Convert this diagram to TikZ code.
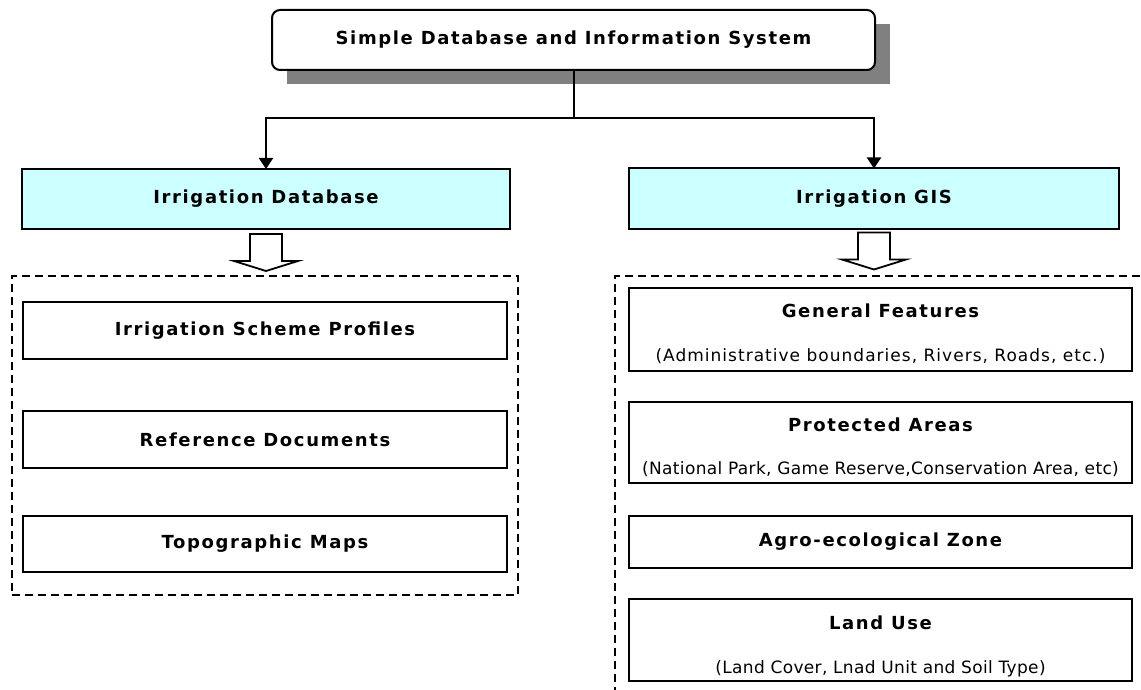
\documentclass[tikz,border=0pt]{standalone}
\usepackage{fontspec}
\setmainfont{DejaVu Sans}
\newfontfamily\lblfont{DejaVu Sans}[LetterSpace=9]
\newfontfamily\notefont{DejaVu Sans}[LetterSpace=2]
\newfontfamily\notewidefont{DejaVu Sans}[LetterSpace=6]
\usetikzlibrary{arrows.meta,backgrounds}
\definecolor{paleblue}{HTML}{CCFFFF}
\definecolor{shadowgray}{HTML}{808080}

\tikzset{
  every node/.style={inner sep=0pt, outer sep=0pt},
  labelfont/.style={font=\lblfont\bfseries\fontsize{18}{21}\selectfont},
  mainbox/.style={draw=black, line width=2pt, fill=white,
    rounded corners=8pt, minimum width=603pt, minimum height=60pt, labelfont},
  headbox/.style={draw=black, line width=2pt, fill=paleblue,
    minimum height=60pt, labelfont},
  itembox/.style={draw=black, line width=2pt, fill=white},
  grouping/.style={draw=black, line width=2.8pt, dash pattern=on 8pt off 5pt},
  title/.style={labelfont},
  note/.style={font=\notefont\fontsize{17}{20}\selectfont},
  widenote/.style={font=\notewidefont\fontsize{17}{20}\selectfont},
  link/.style={draw=black, line width=2pt},
  hollow/.pic={
    \draw[line width=1.8pt, fill=white, line join=miter]
      (-16,0) -- (-16,27) -- (-32,27) -- (0,37) -- (32,27)
      -- (16,27) -- (16,0) -- cycle;
  }
}

\begin{document}
\begin{tikzpicture}[x=1pt, y=-1pt]
\useasboundingbox (0,0) rectangle (1141,690);

% top level system box with its offset shadow
\node[mainbox] (top) at (573.5,40) {Simple Database and Information System};
\begin{scope}[on background layer]
  \fill[shadowgray] ([xshift=14.5pt,yshift=-14pt]top.south west)
    rectangle ([xshift=14.5pt,yshift=-14pt]top.north east);
\end{scope}

% the two branches
\node[headbox, minimum width=488pt] (db) at (266,199) {Irrigation Database};
\node[headbox, minimum width=490pt] (gis) at (874,198.5) {Irrigation GIS};

\coordinate (bus) at (573.5,118);
\draw[link] (top.south) -- (bus);
\draw[link, -{Triangle[width=14pt,length=11pt]}] (bus) -| (db.north);
\draw[link, -{Triangle[width=14pt,length=11pt]}] (bus) -| (gis.north);

% hollow arrows into the groups
\pic at ([yshift=-5pt]db.south) {hollow};
\pic at ([yshift=-4pt]gis.south) {hollow};

% database group
\node[grouping, minimum width=506pt, minimum height=319pt] (dbgroup) at (265,435.5) {};
\node[itembox, title, minimum width=484pt, minimum height=57pt] (isp) at (265,330.5) {Irrigation Scheme Profiles};
\node[itembox, title, minimum width=484pt, minimum height=57pt] (refdoc) at (265,439.5) {Reference Documents};
\node[itembox, title, minimum width=484pt, minimum height=56pt] (topo) at (265,544) {Topographic Maps};

% GIS group (runs past the page edge)
\begin{scope}
  \clip (0,0) rectangle (1141,690);
  \node[grouping, minimum width=530pt, minimum height=440pt, anchor=north west] (gisgroup) at (615,276) {};
\end{scope}

\node[itembox, minimum width=503pt, minimum height=83pt] (gf) at (880.5,329.5) {};
\node[title] at ([yshift=-23pt]gf.north) {General Features};
\node[widenote] at ([yshift=15pt]gf.south) {(Administrative boundaries, Rivers, Roads, etc.)};

\node[itembox, minimum width=503pt, minimum height=81pt] (pa) at (880.5,442.5) {};
\node[title] at ([yshift=-23pt]pa.north) {Protected Areas};
\node[note] at ([yshift=14pt]pa.south) {(National Park, Game Reserve,Conservation Area, etc)};

\node[itembox, title, minimum width=503pt, minimum height=52pt] (aez) at (880.5,542) {Agro-ecological Zone};

\node[itembox, minimum width=503pt, minimum height=82pt] (lu) at (880.5,640) {};
\node[title] at ([yshift=-24pt]lu.north) {Land Use};
\node[note] at ([yshift=12pt]lu.south) {(Land Cover, Lnad Unit and Soil Type)};
\end{tikzpicture}
\end{document}
